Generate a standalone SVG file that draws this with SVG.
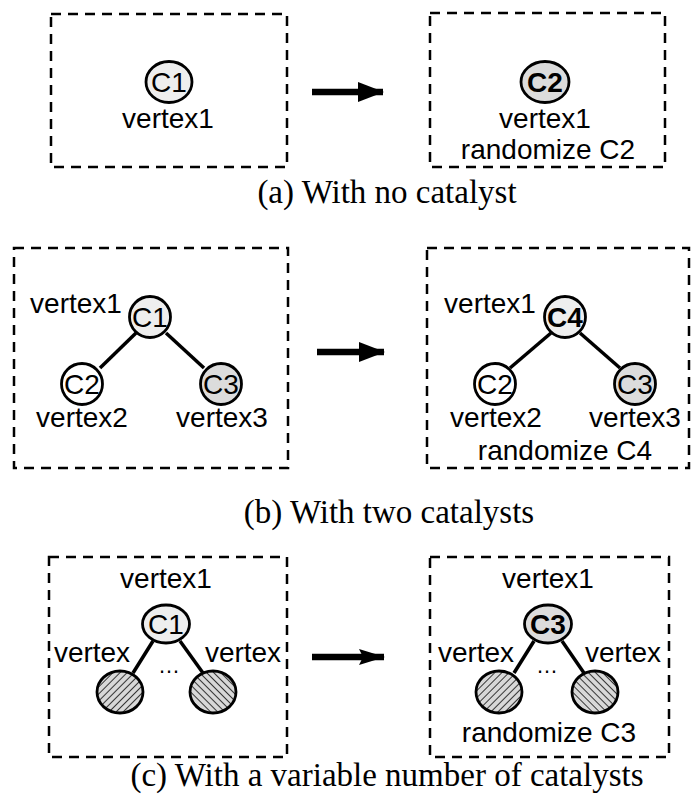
<svg xmlns="http://www.w3.org/2000/svg" width="694" height="797" viewBox="0 0 694 797">
  <defs>
    <style>
      .frame { fill: none; stroke: #000; stroke-width: 2.5; stroke-dasharray: 10 7; }
      .lbl { font-family: "Liberation Sans", Arial, sans-serif; font-size: 28px; fill: #000; }
      .mid { text-anchor: middle; }
      .bold { font-weight: bold; }
      .cap { font-family: "Liberation Serif", "Times New Roman", serif; font-size: 33px; fill: #000; text-anchor: middle; }
      .node { stroke: #000; stroke-width: 2.8; }
      .light { fill: #eeeeee; }
      .dark { fill: #dcdcdc; }
      .white { fill: #ffffff; }
      .edge { stroke: #000; stroke-width: 3.5; fill: none; }
      .shaft { stroke: #000; stroke-width: 6.5; fill: none; }
    </style>
    <pattern id="hatchR" width="5" height="5" patternUnits="userSpaceOnUse" patternTransform="rotate(45)">
      <rect width="5" height="5" fill="#d8d8d8"/>
      <line x1="0" y1="0" x2="0" y2="5" stroke="#222" stroke-width="1.8"/>
    </pattern>
    <pattern id="hatchL" width="5" height="5" patternUnits="userSpaceOnUse" patternTransform="rotate(-45)">
      <rect width="5" height="5" fill="#d8d8d8"/>
      <line x1="0" y1="0" x2="0" y2="5" stroke="#222" stroke-width="1.8"/>
    </pattern>
    <marker id="head" markerWidth="26" markerHeight="20" refX="25" refY="10" orient="auto" markerUnits="userSpaceOnUse">
      <path d="M0,0 L26,10 L0,20 Z" fill="#000"/>
    </marker>
    <marker id="slim" markerWidth="26" markerHeight="16" refX="25" refY="8" orient="auto" markerUnits="userSpaceOnUse">
      <path d="M0,0 L26,8 L0,16 L4,8 Z" fill="#000"/>
    </marker>
  </defs>

  <!-- (a) no catalyst -->
  <g id="a-before">
    <rect class="frame" x="51" y="14" width="236" height="153"/>
    <ellipse class="node light" cx="169" cy="82" rx="23" ry="20.5"/>
    <text class="lbl mid" x="169" y="92">C1</text>
    <text class="lbl mid" x="168" y="128">vertex1</text>
  </g>
  <g id="a-after">
    <rect class="frame" x="430" y="13" width="235" height="154"/>
    <ellipse class="node dark" cx="545" cy="82" rx="24" ry="20.5"/>
    <text class="lbl mid bold" x="545" y="92">C2</text>
    <text class="lbl mid" x="545" y="128">vertex1</text>
    <text class="lbl mid" x="548" y="159">randomize C2</text>
  </g>
  <text id="cap-a" class="cap" x="387" y="203">(a) With no catalyst</text>

  <!-- (b) two catalysts -->
  <g id="b-before">
    <rect class="frame" x="14" y="248" width="274" height="220"/>
    <line class="edge" x1="136" y1="333" x2="100" y2="368"/>
    <line class="edge" x1="166" y1="333" x2="204" y2="368"/>
    <circle class="node light" cx="150" cy="317" r="20.5"/>
    <text class="lbl mid" x="150" y="327">C1</text>
    <circle class="node white" cx="82" cy="384" r="20.5"/>
    <text class="lbl mid" x="82" y="394">C2</text>
    <circle class="node dark" cx="221" cy="384" r="20.5"/>
    <text class="lbl mid" x="221" y="394">C3</text>
    <text class="lbl mid" x="76" y="313">vertex1</text>
    <text class="lbl mid" x="82" y="427">vertex2</text>
    <text class="lbl mid" x="222" y="427">vertex3</text>
  </g>
  <g id="b-after">
    <rect class="frame" x="427" y="248" width="262" height="220"/>
    <line class="edge" x1="551" y1="333" x2="510" y2="368"/>
    <line class="edge" x1="580" y1="333" x2="620" y2="368"/>
    <circle class="node light" cx="565" cy="317" r="20.5"/>
    <text class="lbl mid bold" x="565" y="327">C4</text>
    <circle class="node white" cx="495" cy="384" r="20.5"/>
    <text class="lbl mid" x="495" y="394">C2</text>
    <circle class="node dark" cx="635" cy="384" r="20.5"/>
    <text class="lbl mid" x="635" y="394">C3</text>
    <text class="lbl mid" x="490" y="313">vertex1</text>
    <text class="lbl mid" x="496" y="427">vertex2</text>
    <text class="lbl mid" x="635" y="427">vertex3</text>
    <text class="lbl mid" x="565" y="460">randomize C4</text>
  </g>
  <text id="cap-b" class="cap" x="389" y="523">(b) With two catalysts</text>

  <!-- (c) variable number of catalysts -->
  <g id="c-before">
    <rect class="frame" x="49" y="557" width="238" height="200"/>
    <line class="edge" x1="153" y1="641" x2="133" y2="673"/>
    <line class="edge" x1="180" y1="641" x2="203" y2="673"/>
    <ellipse class="node light" cx="166" cy="624" rx="23.5" ry="19"/>
    <text class="lbl mid" x="166" y="634">C1</text>
    <ellipse class="node" fill="url(#hatchR)" cx="120" cy="692" rx="23" ry="21"/>
    <ellipse class="node" fill="url(#hatchL)" cx="213" cy="692" rx="23" ry="21"/>
    <text class="lbl mid" x="166" y="588">vertex1</text>
    <text class="lbl mid" x="92" y="662">vertex</text>
    <text class="lbl mid" x="243" y="662">vertex</text>
    <text class="lbl mid" x="169" y="673" style="font-size:22px">…</text>
  </g>
  <g id="c-after">
    <rect class="frame" x="430" y="557" width="239" height="200"/>
    <line class="edge" x1="534" y1="641" x2="514" y2="673"/>
    <line class="edge" x1="562" y1="641" x2="584" y2="673"/>
    <ellipse class="node dark" cx="548" cy="624" rx="23.5" ry="19"/>
    <text class="lbl mid bold" x="548" y="634">C3</text>
    <ellipse class="node" fill="url(#hatchR)" cx="499" cy="692" rx="23" ry="21"/>
    <ellipse class="node" fill="url(#hatchL)" cx="595" cy="692" rx="23" ry="21"/>
    <text class="lbl mid" x="548" y="588">vertex1</text>
    <text class="lbl mid" x="476" y="662">vertex</text>
    <text class="lbl mid" x="623" y="662">vertex</text>
    <text class="lbl mid" x="547" y="673" style="font-size:22px">…</text>
    <text class="lbl mid" x="549" y="742">randomize C3</text>
  </g>
  <text id="cap-c" class="cap" x="387" y="786">(c) With a variable number of catalysts</text>

  <!-- transition arrows -->
  <g id="arrows">
    <line class="shaft" x1="312" y1="92" x2="383" y2="92" marker-end="url(#head)"/>
    <line class="shaft" x1="317" y1="352" x2="384" y2="352" marker-end="url(#head)"/>
    <line class="shaft" x1="312" y1="657" x2="384" y2="657" marker-end="url(#slim)"/>
  </g>
</svg>
